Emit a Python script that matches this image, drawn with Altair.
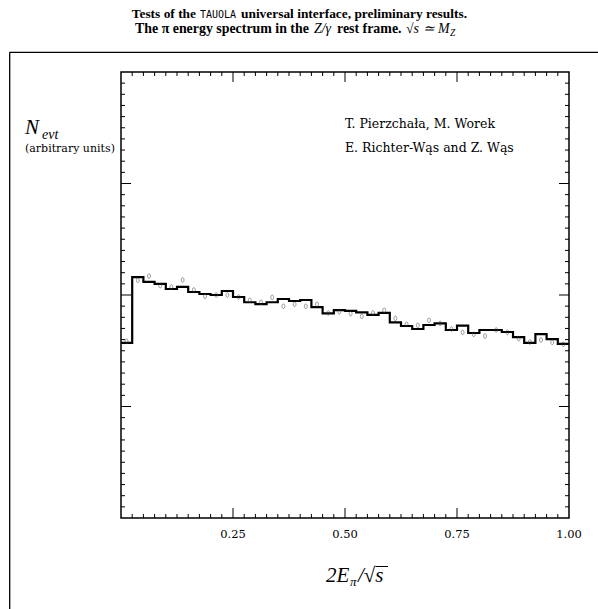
import altair as alt
import pandas as pd

# ---------------- data ----------------
bin_width = 0.025
hist_values = [1.570, 2.161, 2.117, 2.099, 2.054, 2.072, 2.027, 2.009, 2.000, 2.036,
               1.982, 1.935, 1.919, 1.935, 1.964, 1.946, 1.955, 1.892, 1.836, 1.865,
               1.857, 1.845, 1.821, 1.839, 1.755, 1.722, 1.695, 1.731, 1.746, 1.686,
               1.726, 1.659, 1.686, 1.686, 1.668, 1.623, 1.570, 1.650, 1.605, 1.561]
point_values = [1.585, 2.132, 2.170, 2.084, 2.072, 2.135, 2.045, 1.988, 2.000, 2.000,
                1.982, 1.952, 1.935, 1.979, 1.899, 1.917, 1.899, 1.917, 1.839, 1.851,
                1.833, 1.809, 1.839, 1.863, 1.791, 1.737, 1.728, 1.773, 1.746, 1.695,
                1.665, 1.648, 1.632, 1.686, 1.665, 1.609, 1.578, 1.596, 1.576, 1.558]
x_labels = [0.25, 0.50, 0.75, 1.00]
x_label_text = ["0.25", "0.50", "0.75", "1.00"]
x_major_ticks = [0.25, 0.50, 0.75]
x_minor_ticks = [round(i * 0.025, 3) for i in range(1, 40) if i % 10 != 0]
y_major_ticks = [1, 2, 3]
y_minor_ticks = [round(i * 0.1, 2) for i in range(1, 40) if i % 10 != 0]

n = len(hist_values)
edges = [round(i * bin_width, 4) for i in range(n + 1)]
centers = [round((i + 0.5) * bin_width, 4) for i in range(n)]

hist_df = pd.DataFrame({"x": edges, "y": hist_values + [hist_values[-1]]})
pts_df = pd.DataFrame({"x": centers, "y": point_values})
lab_df = pd.DataFrame({"x": x_labels, "t": x_label_text})

W, H = 448, 446
OX, OY = 121, 72  # plot origin on the page

xs = alt.Scale(domain=[0, 1], nice=False, zero=False)
ys = alt.Scale(domain=[0, 4], nice=False, zero=False)

serif = "Liberation Serif"
serif2 = "DejaVu Serif"

X = alt.X("x:Q", scale=xs, axis=None)
Y = alt.Y("y:Q", scale=ys, axis=None)

line = alt.Chart(hist_df).mark_line(
    interpolate="step-after", color="black", strokeWidth=2.2, clip=True
).encode(x=X, y=Y)

ellipse = "M0,-1A0.6,1,0,1,1,0,1A0.6,1,0,1,1,0,-1Z"
points = alt.Chart(pts_df).mark_point(
    shape=ellipse, size=22, filled=False, stroke="#444", strokeWidth=0.8
).encode(x=X, y=Y)

labels = alt.Chart(lab_df).mark_text(
    font=serif2, fontSize=11.5, baseline="middle", align="center", color="black"
).encode(x=X, y=alt.value(H + 17), text="t:N")


def xticks(vals, length):
    d = pd.DataFrame({"x": vals})
    bot = alt.Chart(d).mark_rule(color="black", strokeWidth=1).encode(
        x=X, y=alt.value(H), y2=alt.value(H - length))
    top = alt.Chart(d).mark_rule(color="black", strokeWidth=1).encode(
        x=X, y=alt.value(0), y2=alt.value(length))
    return [bot, top]


def yticks(vals, length):
    d = pd.DataFrame({"y": vals})
    left = alt.Chart(d).mark_rule(color="black", strokeWidth=1).encode(
        y=Y, x=alt.value(0), x2=alt.value(length))
    right = alt.Chart(d).mark_rule(color="black", strokeWidth=1).encode(
        y=Y, x=alt.value(W), x2=alt.value(W - length))
    return [left, right]


ticks = xticks(x_minor_ticks, 4) + xticks(x_major_ticks, 10) + \
    yticks(y_minor_ticks, 4) + yticks(y_major_ticks, 10)

one = pd.DataFrame({"k": [0]})


def txt(s, px, py, size, font=serif, style="normal", weight="normal",
        align="left", baseline="alphabetic", color="black"):
    return alt.Chart(one).mark_text(
        text=s, font=font, fontSize=size, fontStyle=style, fontWeight=weight,
        align=align, baseline=baseline, color=color
    ).encode(x=alt.value(px - OX), y=alt.value(py - OY))


def hline(px1, px2, py, width=1.0):
    return alt.Chart(one).mark_rule(color="black", strokeWidth=width).encode(
        x=alt.value(px1 - OX), x2=alt.value(px2 - OX), y=alt.value(py - OY))


tb = 13.4  # title font size
t2 = 13.9
texts = [
    # title line 1
    txt("Tests of the", 196, 18, tb, weight="bold", align="right"),
    txt("TAUOLA", 200, 18, 10, font="DejaVu Sans Mono"),
    txt("universal interface, preliminary results.", 241, 18, tb, weight="bold"),
    # title line 2
    txt("The π energy spectrum in the", 135, 33, t2, weight="bold"),
    txt("Z/γ", 314, 33, t2, style="italic"),
    txt("rest frame.", 337, 33, t2, weight="bold"),
    txt("√s ≃ M", 406, 33, t2, style="italic"),
    txt("Z", 450, 36, 9.5, style="italic"),
    # y label
    txt("N", 25, 134, 21, style="italic"),
    txt("evt", 42, 139, 14, style="italic"),
    txt("(arbitrary units)", 25, 152, 11, font=serif2),
    # authors
    txt("T. Pierzchała, M. Worek", 345, 128, 12.5, font=serif2),
    txt("E. Richter-Wąs and Z. Wąs", 345, 152, 12.5, font=serif2),
    # x title
    txt("2E", 326, 582, 21, style="italic"),
    txt("π", 350, 586, 13, style="italic"),
    txt("/√s", 358, 582, 21, style="italic"),
    hline(375.5, 388, 566.5),
]

frame = [
    alt.Chart(one).mark_rule(color="black", strokeWidth=1.3).encode(
        x=alt.value(9.7 - OX), y=alt.value(52.3 - OY), y2=alt.value(700)),
    alt.Chart(one).mark_rule(color="black", strokeWidth=1.3).encode(
        y=alt.value(52.3 - OY), x=alt.value(9.7 - OX), x2=alt.value(700)),
]

chart = alt.layer(line, points, labels, *ticks, *texts, *frame).properties(
    width=W, height=H,
    autosize=alt.AutoSizeParams(type="none"),
    padding={"left": OX, "top": OY, "right": 598 - OX - W, "bottom": 609 - OY - H},
    background="white",
).configure_view(stroke="black", strokeWidth=1.5)

chart.save("out.html", embed_options={"renderer": "svg", "actions": False})
